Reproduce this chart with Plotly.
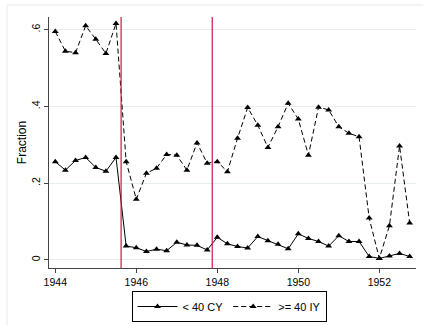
import plotly.graph_objects as go

# Quarterly time index, 1944q1 .. 1952q4
periods = [1944 + 0.25 * i for i in range(36)]

# Share of cases by group
under40_cy = [0.256, 0.234, 0.259, 0.267, 0.241, 0.231, 0.267,
              0.036, 0.032, 0.022, 0.028, 0.024, 0.046, 0.039, 0.038, 0.026,
              0.059, 0.042, 0.035, 0.031, 0.061, 0.050, 0.041, 0.029,
              0.068, 0.056, 0.048, 0.036, 0.063, 0.048, 0.048, 0.009,
              0.004, 0.010, 0.017, 0.009]
over40_iy = [0.595, 0.544, 0.540, 0.610, 0.575, 0.538, 0.616,
             0.256, 0.158, 0.226, 0.239, 0.275, 0.273, 0.234, 0.305, 0.252,
             0.256, 0.230, 0.317, 0.397, 0.351, 0.293, 0.347, 0.408,
             0.367, 0.273, 0.398, 0.391, 0.347, 0.330, 0.321, 0.109,
             0.004, 0.089, 0.297, 0.096]

series_names = ["< 40 CY", ">= 40 IY"]
event_dates = [1945.625, 1947.875]

y_ticks = [0, 0.2, 0.4, 0.6]
y_tick_text = ["0", ".2", ".4", ".6"]
x_ticks = [1944, 1946, 1948, 1950, 1952]

W, H = 423, 325
ML, MR, MT, MB = 49, 7, 17, 57
pw, ph = W - ML - MR, H - MT - MB

fig = go.Figure()
fig.add_trace(go.Scatter(
    x=periods, y=under40_cy, name=series_names[0], mode="lines+markers",
    line=dict(color="black", width=1),
    marker=dict(symbol="triangle-up", size=6, color="black"),
))
fig.add_trace(go.Scatter(
    x=periods, y=over40_iy, name=series_names[1], mode="lines+markers",
    line=dict(color="black", width=1, dash="5px,3px"),
    marker=dict(symbol="triangle-up", size=6, color="black"),
))

for d in event_dates:
    fig.add_shape(type="line", xref="x", yref="paper", x0=d, x1=d, y0=0, y1=1,
                  line=dict(color="#d0163f", width=1.2), layer="above")

# faint outer graph-region frame (top and left edges)
fx = (7 - ML) / pw
fy = 1 + (MT - 5) / ph
fig.add_shape(type="line", xref="paper", yref="paper", x0=fx, x1=1.2, y0=fy, y1=fy,
              line=dict(color="#e4ecef", width=1))
fig.add_shape(type="line", xref="paper", yref="paper", x0=fx, x1=fx, y0=fy, y1=-0.5,
              line=dict(color="#e4ecef", width=1))

font_family = "Liberation Sans, Arial, sans-serif"
tick_font = dict(family=font_family, size=10.5, color="black")
title_font = dict(family=font_family, size=12, color="black")

fig.update_layout(
    width=W, height=H,
    margin=dict(l=ML, r=MR, t=MT, b=MB, pad=0, autoexpand=False),
    paper_bgcolor="white", plot_bgcolor="white",
    font=tick_font,
    showlegend=True,
    legend=dict(
        orientation="h", xref="container", x=229 / W, xanchor="center",
        yref="container", y=1 - 291 / H, yanchor="top",
        bordercolor="black", borderwidth=1, bgcolor="white",
        font=dict(family=font_family, size=11, color="black"),
        itemwidth=40, tracegroupgap=0,
    ),
    xaxis=dict(
        range=[1943.845, 1952.906], tickvals=x_ticks, ticks="outside",
        ticklen=4, tickcolor="#444", showline=True, linecolor="#444",
        linewidth=1, showgrid=False, zeroline=False, tickfont=tick_font,
    ),
    yaxis=dict(
        range=[-0.021, 0.633], tickvals=y_ticks, ticktext=y_tick_text,
        tickangle=-90, ticks="outside", ticklen=4, tickcolor="#444",
        showline=True, linecolor="#444", linewidth=1,
        showgrid=True, gridcolor="#e6eef0", gridwidth=1, zeroline=False,
        tickfont=tick_font,
        title=dict(text="Fraction", font=title_font, standoff=0),
    ),
)

fig.write_html("out.html")
